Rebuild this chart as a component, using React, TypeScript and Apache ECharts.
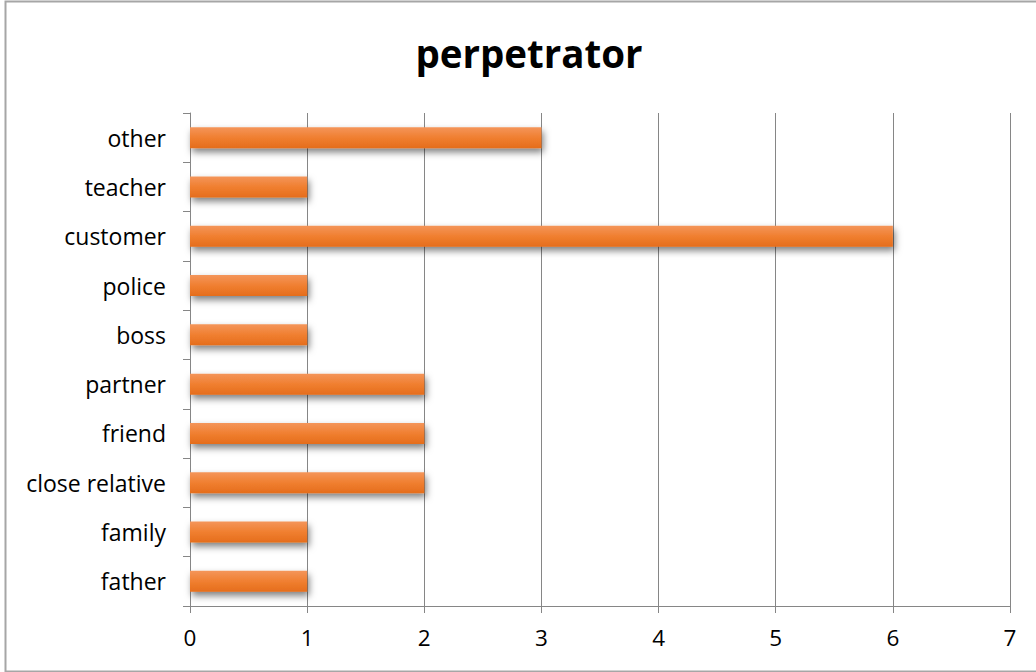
import React, { useEffect, useRef } from "react";
import * as echarts from "echarts";

const categories = ["father", "family", "close relative", "friend", "partner", "boss", "police", "customer", "teacher", "other"];
const values = [1, 1, 2, 2, 2, 1, 1, 6, 1, 3];
const xTicks = [0, 1, 2, 3, 4, 5, 6, 7];
const titleText = "perpetrator";

export default function App() {
  const ref = useRef<HTMLDivElement>(null);
  useEffect(() => {
    if (!ref.current) return;
    const chart = echarts.init(ref.current, null, { renderer: "svg" });
    const font = "Open Sans";
    chart.setOption({
      animation: false,
      backgroundColor: "#ffffff",
      title: {
        text: titleText,
        left: 524,
        textAlign: "center",
        top: 28,
        textStyle: { fontFamily: font, fontWeight: "bold", fontSize: 38.5, color: "#000" },
      },
      graphic: [
        {
          type: "rect",
          shape: { x: 5.5, y: 1.5, width: 1040, height: 670 },
          style: { fill: "none", stroke: "#a6a6a6", lineWidth: 2 },
          silent: true,
        },
      ],
      grid: { left: 190, right: 26, top: 113, bottom: 66, containLabel: false },
      xAxis: {
        type: "value",
        min: xTicks[0],
        max: xTicks[xTicks.length - 1],
        interval: 1,
        axisLine: { show: true, lineStyle: { color: "#868686", width: 1 } },
        axisTick: { show: true, length: 7, lineStyle: { color: "#868686" } },
        splitLine: { show: true, lineStyle: { color: "#868686", width: 1 } },
        axisLabel: { fontFamily: font, fontSize: 22.5, color: "#000", margin: 20 },
      },
      yAxis: {
        type: "category",
        data: categories,
        axisLine: { show: true, lineStyle: { color: "#868686", width: 1 } },
        axisTick: { show: true, length: 7, alignWithLabel: false, lineStyle: { color: "#868686" } },
        axisLabel: { fontFamily: font, fontSize: 23, color: "#000", margin: 24 },
        splitLine: { show: false },
      },
      series: [
        {
          type: "bar",
          data: values,
          barWidth: 21,
          itemStyle: {
            color: new echarts.graphic.LinearGradient(0, 0, 0, 1, [
              { offset: 0, color: "#f4955a" },
              { offset: 0.5, color: "#f07f30" },
              { offset: 1, color: "#e56d1c" },
            ]),
            shadowColor: "rgba(0,0,0,0.5)",
            shadowBlur: 7,
            shadowOffsetX: 2,
            shadowOffsetY: 4,
          },
        },
      ],
    });
    return () => chart.dispose();
  }, []);
  return <div ref={ref} style={{ position: "absolute", left: 0, top: 0, width: 1036, height: 672 }} />;
}
